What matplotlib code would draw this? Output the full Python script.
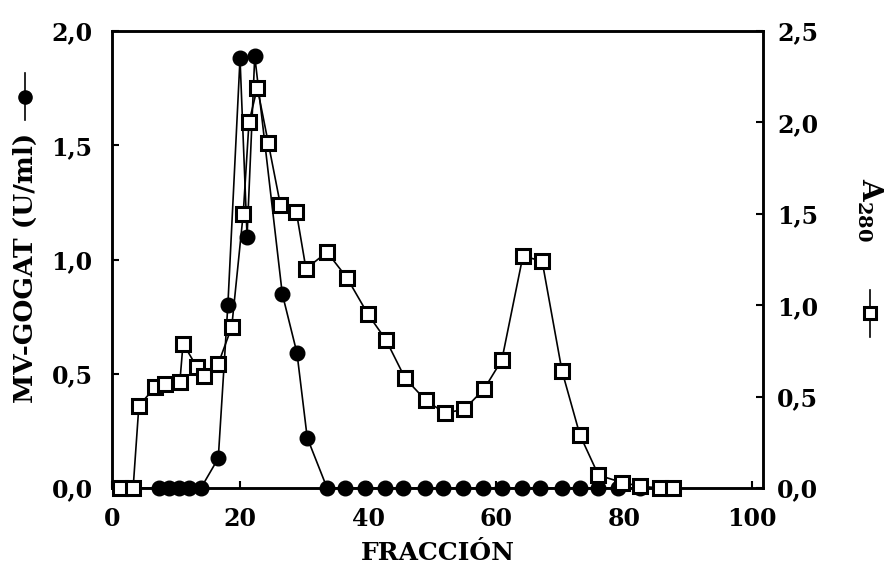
import matplotlib
matplotlib.use("Agg")
import matplotlib.pyplot as plt
from matplotlib.lines import Line2D
from matplotlib.ticker import FuncFormatter

plt.rcParams['font.family'] = ['DejaVu Serif']
plt.rcParams['font.weight'] = 'bold'
plt.rcParams['mathtext.fontset'] = 'custom'
plt.rcParams['mathtext.rm'] = 'DejaVu Serif:bold'
plt.rcParams['mathtext.bf'] = 'DejaVu Serif:bold'

# A280 (squares, right axis)
sq_x = [1.3, 3.3, 4.2, 6.7, 8.3, 10.6, 11.1, 13.3, 14.4, 16.6, 18.7, 20.5, 21.4, 22.7,
        24.4, 26.3, 28.8, 30.3, 33.6, 36.7, 40.0, 42.8, 45.8, 49.0, 52.0, 55.0, 58.1,
        60.9, 64.2, 67.2, 70.3, 73.1, 76.0, 79.7, 82.5, 85.6, 87.7]
sq_y = [0.0, 0.0, 0.45, 0.55, 0.57, 0.58, 0.79, 0.66, 0.61, 0.68, 0.88, 1.50, 2.00, 2.19,
        1.89, 1.55, 1.51, 1.20, 1.29, 1.15, 0.95, 0.81, 0.60, 0.48, 0.41, 0.43, 0.54,
        0.70, 1.27, 1.24, 0.64, 0.29, 0.07, 0.03, 0.01, 0.0, 0.0]

# MV-GOGAT (circles, left axis)
ci_x = [1.3, 3.3, 7.3, 8.9, 10.5, 12.0, 13.9, 16.6, 18.1, 20.0, 21.1, 22.3, 26.6, 28.9,
        30.5, 33.6, 36.4, 39.5, 42.7, 45.5, 48.9, 51.7, 54.8, 58.0, 60.9, 64.0, 66.9,
        70.3, 73.1, 75.9, 79.0, 82.5, 85.6, 87.7]
ci_y = [0.0, 0.0, 0.0, 0.0, 0.0, 0.0, 0.0, 0.13, 0.80, 1.88, 1.10, 1.89, 0.85, 0.59,
        0.22, 0.0, 0.0, 0.0, 0.0, 0.0, 0.0, 0.0, 0.0, 0.0, 0.0, 0.0, 0.0,
        0.0, 0.0, 0.0, 0.0, 0.0, 0.0, 0.0]

x_ticks = [0, 20, 40, 60, 80, 100]
left_ticks = [0.0, 0.5, 1.0, 1.5, 2.0]
right_ticks = [0.0, 0.5, 1.0, 1.5, 2.0, 2.5]

W, H = 885, 574
fig = plt.figure(figsize=(W / 100, H / 100), dpi=100)
ax = fig.add_axes([112 / W, 1 - 488 / H, (763 - 112) / W, (488 - 31) / H])
ax2 = ax.twinx()

ax.plot(ci_x, ci_y, color='black', lw=1.2, marker='o', ms=10.5, mfc='black',
        mec='black', clip_on=False, zorder=3)
ax2.plot(sq_x, sq_y, color='black', lw=1.2, marker='s', ms=10.5, mfc='white',
         mec='black', mew=2.2, clip_on=False, zorder=3)

ax.set_xlim(0, 101.7)
ax.set_ylim(0, 2.0)
ax2.set_ylim(0, 2.5)

fmt = FuncFormatter(lambda v, p: f"{v:.1f}".replace('.', ','))
ax.set_xticks(x_ticks)
ax.set_yticks(left_ticks)
ax2.set_yticks(right_ticks)
ax.yaxis.set_major_formatter(fmt)
ax2.yaxis.set_major_formatter(fmt)

for a in (ax, ax2):
    for s in a.spines.values():
        s.set_linewidth(1.8)
ax.tick_params(axis='x', direction='in', length=5, width=1.5, labelsize=17, pad=14)
ax.tick_params(axis='y', direction='in', length=5, width=1.5, labelsize=17, pad=14)
ax2.tick_params(axis='y', direction='in', length=5, width=1.5, labelsize=17, pad=10)

ax.set_xlabel('FRACCIÓN', fontsize=18, fontweight='bold', labelpad=7)

# left y label with legend marker
fig.text(25 / W, 1 - 268 / H, 'MV-GOGAT (U/ml)', rotation=90, ha='center', va='center',
         fontsize=19, fontweight='bold')
fig.add_artist(Line2D([25 / W, 25 / W], [1 - 73 / H, 1 - 120 / H], transform=fig.transFigure,
                      color='black', lw=1.2))
fig.add_artist(Line2D([25 / W], [1 - 97 / H], transform=fig.transFigure, marker='o', ms=9.5,
                      mfc='black', mec='black', lw=0))

# right y label with legend marker
fig.text(870 / W, 1 - 210 / H, r'$\mathrm{A}_{\mathrm{280}}$', rotation=-90, ha='center',
         va='center', fontsize=20)
fig.add_artist(Line2D([870 / W, 870 / W], [1 - 290 / H, 1 - 337 / H], transform=fig.transFigure,
                      color='black', lw=1.2))
fig.add_artist(Line2D([870 / W], [1 - 313 / H], transform=fig.transFigure, marker='s', ms=8.5,
                      mfc='white', mec='black', mew=2.2, lw=0))

fig.savefig('out.png', dpi=100)
